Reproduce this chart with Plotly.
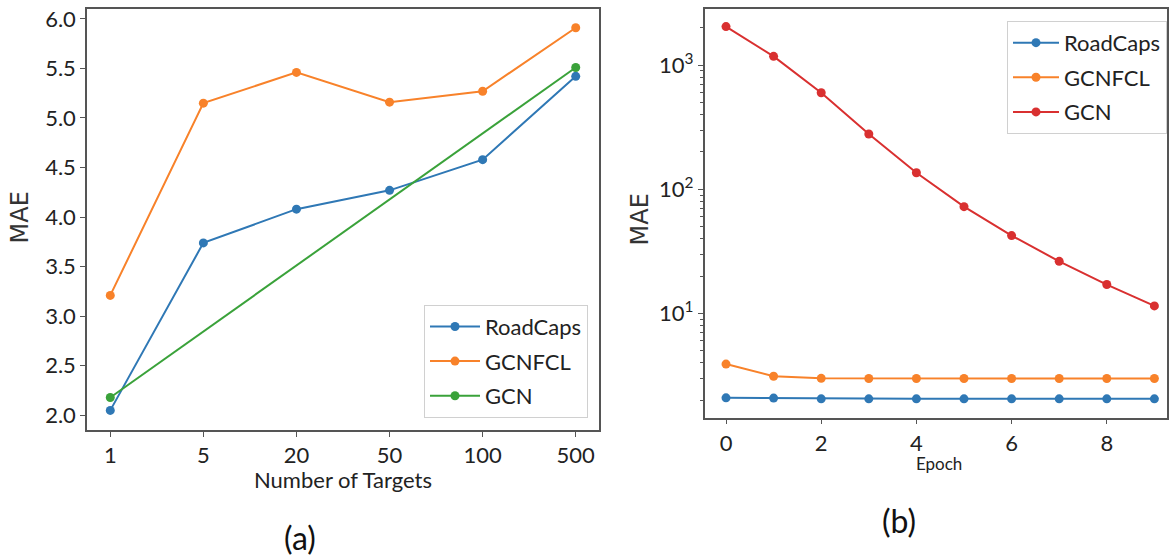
import plotly.graph_objects as go

# ---- data: panel (a) ----
targets = ["1", "5", "20", "50", "100", "500"]
roadcaps_a = [2.05, 3.74, 4.08, 4.27, 4.58, 5.42]
gcnfcl_a = [3.21, 5.15, 5.46, 5.16, 5.27, 5.91]
gcn_a_x = ["1", "500"]
gcn_a = [2.18, 5.51]

# ---- data: panel (b) ----
epochs = [0, 1, 2, 3, 4, 5, 6, 7, 8, 9]
roadcaps_b = [2.09, 2.08, 2.05, 2.05, 2.05, 2.05, 2.05, 2.05, 2.05, 2.05]
gcnfcl_b = [3.91, 3.12, 3.0, 2.99, 2.99, 2.99, 2.99, 2.99, 2.99, 2.99]
gcn_b = [2050, 1180, 601, 279, 136, 72.5, 42.4, 26.3, 17.1, 11.5]

BLUE, ORANGE, GREEN, RED = "#2f78b5", "#f8822a", "#3aa23a", "#d93030"
TXT = "#222222"
AX = "#555555"
TF = "Lato, 'Liberation Sans', sans-serif"

fig = go.Figure()

def add(x, y, name, color, xa, ya, legend, group):
    fig.add_trace(go.Scatter(
        x=x, y=y, name=name, mode="lines+markers",
        line=dict(color=color, width=2),
        marker=dict(color=color, size=9),
        xaxis=xa, yaxis=ya, legend=legend, legendgroup=group,
    ))

add(targets, roadcaps_a, "RoadCaps", BLUE, "x", "y", "legend", "a1")
add(targets, gcnfcl_a, "GCNFCL", ORANGE, "x", "y", "legend", "a2")
add(gcn_a_x, gcn_a, "GCN", GREEN, "x", "y", "legend", "a3")
add(epochs, roadcaps_b, "RoadCaps", BLUE, "x2", "y2", "legend2", "b1")
add(epochs, gcnfcl_b, "GCNFCL", ORANGE, "x2", "y2", "legend2", "b2")
add(epochs, gcn_b, "GCN", RED, "x2", "y2", "legend2", "b3")

W, H = 1169, 556
def px(x):
    return x / W
def py(y):
    return 1 - y / H

axcommon = dict(showline=True, mirror=True, linecolor=AX, linewidth=1.5,
                ticks="outside", ticklen=5, tickcolor=AX, tickwidth=1.2,
                showgrid=False, zeroline=False,
                tickfont=dict(family=TF, size=22, color=TXT))

minor_vals = [m * 10 ** d for d in range(0, 4) for m in range(2, 10)]

fig.update_layout(
    width=W, height=H, margin=dict(l=0, r=0, t=0, b=0),
    paper_bgcolor="white", plot_bgcolor="white",
    xaxis=dict(domain=[px(87), px(599)], anchor="y", type="category",
               categoryorder="array", categoryarray=targets,
               range=[-0.25, 5.25], **axcommon),
    yaxis=dict(domain=[py(429), py(4.7)], anchor="x", range=[1.853, 6.103],
               tickvals=[2.0, 2.5, 3.0, 3.5, 4.0, 4.5, 5.0, 5.5, 6.0],
               tickformat=".1f", **axcommon),
    xaxis2=dict(domain=[px(704.5), px(1167)], anchor="y2",
                range=[-0.452, 9.265], tickvals=[0, 2, 4, 6, 8], **axcommon),
    yaxis2=dict(domain=[py(416.7), py(4.7)], anchor="x2", type="log",
                range=[0.16, 3.456], tickvals=[10, 100, 1000],
                ticktext=["10<sup>1</sup>", "10<sup>2</sup>", "10<sup>3</sup>"],
                minor=dict(ticks="outside", ticklen=3, tickcolor=AX,
                           tickvals=minor_vals, showgrid=False),
                **axcommon),
    legend=dict(x=px(588), xanchor="right", y=py(416.7), yanchor="bottom",
                bgcolor="white", bordercolor="#d0d0d0", borderwidth=1,
                font=dict(family=TF, size=22, color=TXT), itemwidth=50,
                tracegroupgap=3, traceorder="grouped"),
    legend2=dict(x=px(1167), xanchor="right", y=py(17), yanchor="top",
                 bgcolor="white", bordercolor="#d0d0d0", borderwidth=1,
                 font=dict(family=TF, size=22, color=TXT), itemwidth=46,
                 tracegroupgap=3, traceorder="grouped"),
    showlegend=True,
)

ann = [
    dict(text="Number of Targets", x=px(343), y=py(479), font=dict(family=TF, size=22, color=TXT)),
    dict(text="MAE", x=px(20), y=py(215), textangle=-90, font=dict(family="DejaVu Sans", size=24, color="#333333")),
    dict(text="MAE", x=px(640), y=py(217), textangle=-90, font=dict(family="DejaVu Sans", size=24, color="#333333")),
    dict(text="Epoch", x=px(939), y=py(463), font=dict(family=TF, size=17, color=TXT)),
    dict(text="(a)", x=px(300), y=py(537), font=dict(family=TF, size=32, color="#111111")),
    dict(text="(b)", x=px(899), y=py(520), font=dict(family=TF, size=32, color="#111111")),
]
for a in ann:
    fig.add_annotation(xref="paper", yref="paper", showarrow=False,
                       xanchor="center", yanchor="middle", **a)

fig.write_html("out.html")
